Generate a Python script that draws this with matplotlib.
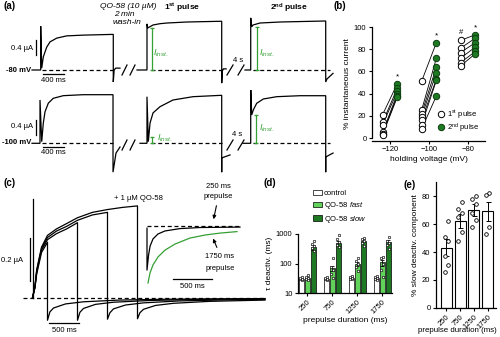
import numpy as np
import matplotlib
matplotlib.use('Agg')
import matplotlib.pyplot as plt
from matplotlib.lines import Line2D
from matplotlib.patches import Patch, FancyArrowPatch
from matplotlib.ticker import NullLocator

plt.rcParams['font.family'] = ['Liberation Sans', 'DejaVu Sans']
plt.rcParams['mathtext.fontset'] = 'custom'
plt.rcParams['mathtext.rm'] = 'Liberation Sans'
plt.rcParams['mathtext.it'] = 'Liberation Sans:italic'
plt.rcParams['mathtext.bf'] = 'Liberation Sans:bold'

# ---- (a) example currents, time in ms, current in uA ----
a80_ctrl_t = [-150, 13, 13, 32, 62, 126, 188, 313, 501, 812, 1374, 1374, 1390, 1420, 1500]
a80_ctrl_i = [0, 0, 1.17, 0.05, 0.35, 0.61, 0.75, 0.85, 0.91, 0.93, 0.95, -0.32, 0.0, 0.05, 0.05]
a80_p1_t = [1819, 2006, 2006, 2019, 2119, 2250, 2381, 2756, 3407, 3407, 3420, 3440, 3490]
a80_p1_i = [0, 0, 1.23, 1.12, 1.2, 1.235, 1.253, 1.28, 1.3, -0.35, -0.02, 0.03, 0.03]
a80_p2_t = [3844, 3951, 3951, 3969, 3994, 4125, 4500, 5357, 5357, 5380, 5494]
a80_p2_i = [0, 0, 1.39, 1.15, 1.2, 1.253, 1.28, 1.307, -0.32, -0.24, -0.09]
a80_inst_t = [2094, 4063]
a80_inst_i = [1.12, 1.15]

a100_ctrl_t = [-150, 0, 0, 32, 62, 94, 156, 249, 437, 806, 1369, 1369, 1425, 1500]
a100_ctrl_i = [0, 0, 1.155, 0.043, 0.54, 0.84, 1.07, 1.2, 1.27, 1.296, 1.296, -0.77, -0.26, -0.1]
a100_p1_t = [1875, 2006, 2006, 2031, 2063, 2119, 2250, 2494, 2869, 3407, 3407, 3407, 3563]
a100_p1_i = [0, 0, 1.243, 0.043, 0.54, 0.81, 0.976, 1.155, 1.243, 1.28, -0.77, -0.39, -0.31]
a100_p2_t = [3806, 3951, 3951, 3969, 3999, 4063, 4187, 4438, 4875, 5357, 5357, 5357, 5494]
a100_p2_i = [0, 0, 1.51, 0.755, 0.888, 1.067, 1.181, 1.243, 1.269, 1.269, -0.77, -0.365, -0.26]
a100_inst_t = [2094, 4044]
a100_inst_i = [0.16, 0.755]

# ---- (b) % instantaneous current ----
holding_mv = [-120, -100, -80]
pulse1_m120 = [21, 14, 12, 5, 4, 3]
pulse2_m120 = [49, 45, 42, 40, 38, 37]
pulse1_m100 = [51, 25, 22, 19, 16, 12, 8]
pulse2_m100 = [86, 72, 64, 59, 53, 52, 38]
pulse1_m80 = [88, 81, 77, 72, 68, 65]
pulse2_m80 = [93, 90, 86, 82, 78, 76]

# ---- (c) currents with QO-58, time in ms, current in uA ----
prepulse_ms = [250, 750, 1250, 1750]
rise_t = [0, 40, 70, 150, 250, 400, 570, 750, 1000, 1250, 1500, 1750]
rise_250 = [0, 0.045, 0.11, 0.21, 0.258]
rise_750 = [0, 0.048, 0.12, 0.22, 0.27, 0.298, 0.32, 0.349]
rise_1250 = [0, 0.05, 0.125, 0.228, 0.28, 0.31, 0.332, 0.36, 0.385, 0.397]
rise_1750 = [0, 0.05, 0.13, 0.235, 0.29, 0.32, 0.345, 0.372, 0.397, 0.41, 0.42, 0.427]
tail_t_250 = [250, 290, 350, 550, 850, 1450, 2250, 3875]
tail_i_250 = [-0.105, -0.066, -0.048, -0.029, -0.019, -0.011, -0.007, -0.004]
tail_t_750 = [750, 790, 850, 1050, 1350, 1950, 2750, 3875]
tail_i_750 = [-0.105, -0.068, -0.05, -0.031, -0.021, -0.013, -0.008, -0.005]
tail_t_1250 = [1250, 1290, 1350, 1550, 1850, 2450, 3250, 3875]
tail_i_1250 = [-0.1, -0.07, -0.052, -0.034, -0.024, -0.015, -0.01, -0.008]
tail_t_1750 = [1750, 1790, 1850, 2050, 2350, 2950, 3875]
tail_i_1750 = [-0.098, -0.07, -0.054, -0.036, -0.026, -0.017, -0.011]
cap_peak = 0.46
# inset: normalised tails
inset_250_t = [0, 0, 20, 40, 77, 141, 231, 423, 679, 1192]
inset_250_i = [-0.01, -0.205, -0.135, -0.093, -0.06, -0.037, -0.023, -0.012, -0.007, -0.005]
inset_1750_t = [13, 38, 77, 141, 231, 359, 551, 744, 936, 1154]
inset_1750_i = [-0.265, -0.219, -0.181, -0.144, -0.112, -0.084, -0.056, -0.042, -0.033, -0.026]

# ---- (d) tau deactivation ----
prepulse_labels = ['250', '750', '1250', '1750']
tau_control = [31, 31, 33, 32]
tau_fast = [33, 70, 100, 110]
tau_slow = [350, 500, 600, 550]
tau_control_err = [2, 2, 3, 3]
tau_fast_err = [3, 15, 15, 25]
tau_slow_err = [60, 100, 70, 100]
pts_control = [[27, 29, 31, 33, 36], [27, 29, 31, 33, 35], [29, 31, 33, 35, 38], [28, 30, 32, 35, 37]]
pts_fast = [[28, 30, 33, 36, 42], [32, 45, 60, 75, 150], [55, 75, 95, 120, 150], [35, 60, 100, 150, 170]]
pts_slow = [[260, 330, 380, 450, 560], [350, 420, 520, 700, 900], [400, 500, 600, 680, 750], [300, 420, 500, 600, 800]]

# ---- (e) % slow component ----
slow_pct = [43, 62, 70, 69]
slow_pct_err = [6, 5, 4, 7]
slow_pct_pts = [[62, 51, 48, 37, 31, 26], [76, 71, 68, 65, 54, 48], [80, 78, 74, 68, 63, 58], [82, 81, 58, 53]]

green_dark = '#1d7a22'
green_light = '#62d35a'
green_trace = '#34a034'

W, H = 500, 337
fig = plt.figure(figsize=(5, 3.37), dpi=100)
fig.patch.set_facecolor('white')


def box(x0, y0, x1, y1):
    return [x0 / W, 1 - y1 / H, (x1 - x0) / W, (y1 - y0) / H]


def ptext(x, y, s, **kw):
    kw.setdefault('ha', 'center')
    kw.setdefault('va', 'center')
    kw.setdefault('fontsize', 5.5)
    fig.text(x / W, 1 - y / H, s, **kw)


def trace_axes(b, xlim, ylim):
    ax = fig.add_axes(box(*b))
    ax.set_xlim(xlim)
    ax.set_ylim(ylim)
    ax.axis('off')
    ax.patch.set_alpha(0)
    return ax


lw = 0.9
dash = (0, (3.2, 2.2))

# ================= (a) =================
rows = [
    ((0, 0, 345, 90), (-0.5333, 1.8667),
     [(a80_ctrl_t, a80_ctrl_i), (a80_p1_t, a80_p1_i), (a80_p2_t, a80_p2_i)],
     a80_inst_t, a80_inst_i, 0.0, 0.4),
    ((0, 90, 345, 180), (-0.9787, 1.4213),
     [(a100_ctrl_t, a100_ctrl_i), (a100_p1_t, a100_p1_i), (a100_p2_t, a100_p2_i)],
     a100_inst_t, a100_inst_i, -0.045, 0.22),
]
for b, ylim, traces, it, ii, brk_y, bar_lo in rows:
    ax = trace_axes(b, (-750, 5718.75), ylim)
    for t0, t1 in [(30, 1374), (2080, 3407), (3990, 5440)]:
        ax.plot([t0, t1], [0, 0], color='k', lw=lw, ls=dash)
    for t, i in traces:
        ax.plot(t, i, color='k', lw=lw, solid_joinstyle='miter')
    for t, i in zip(it, ii):
        ax.plot([t, t], [0, i], color=green_trace, lw=lw, marker='_', ms=3.5, mew=0.9)
    for t0, t1 in [(1538, 1631), (1688, 1781), (3506, 3619), (3713, 3825)]:
        ax.plot([t0, t1], [brk_y - 0.133, brk_y + 0.133], color='k', lw=lw)
    # scale bars: 0.4 uA and 400 ms
    ax.plot([-84, -84], [bar_lo, bar_lo + 0.4], color='k', lw=lw)
    ax.plot([50, 450], [-0.1, -0.1], color='k', lw=lw)

ptext(3, 6, '(a)', ha='left', fontsize=7, fontweight='bold')
ptext(128, 7, 'QO-58 (10 µM)', style='italic', fontsize=6)
ptext(124, 15, '2 min', style='italic', fontsize=6)
ptext(127, 23, 'wash-in', style='italic', fontsize=6)
ptext(182, 8, r'1$^{\mathbf{st}}$ pulse', fontweight='bold', fontsize=6)
ptext(289, 8, r'2$^{\mathbf{nd}}$ pulse', fontweight='bold', fontsize=6)
ptext(31, 70, '-80 mV', ha='right', fontweight='bold', fontsize=5.5)
ptext(31, 143, '-100 mV', ha='right', fontweight='bold', fontsize=5.5)
ptext(33, 48, '0.4 µA', ha='right')
ptext(33, 127, '0.4 µA', ha='right')
ptext(53, 80, '400 ms')
ptext(53, 152, '400 ms')
ptext(238, 61, '4 s')
ptext(237, 134, '4 s')
ptext(153, 53, r'$I_{inst.}$', ha='left', color=green_trace, fontsize=6.5)
ptext(259, 53, r'$I_{inst.}$', ha='left', color=green_trace, fontsize=6.5)
ptext(157, 138, r'$I_{inst.}$', ha='left', color=green_trace, fontsize=6.5)
ptext(259, 128, r'$I_{inst.}$', ha='left', color=green_trace, fontsize=6.5)

# ================= (b) =================
ax_b = fig.add_axes(box(372, 25.9, 485, 140.8))
pairs = [(pulse1_m120, pulse2_m120), (pulse1_m100, pulse2_m100), (pulse1_m80, pulse2_m80)]
for v, (p1, p2) in zip(holding_mv, pairs):
    xo, xg = v - 3.8, v + 3.8
    for a, c in zip(p1, p2):
        ax_b.plot([xo, xg], [a, c], color='k', lw=0.6, zorder=1)
    ax_b.plot([xo] * len(p1), p1, 'o', ms=4.6, mfc='white', mec='k', mew=0.7, zorder=3, clip_on=False)
    ax_b.plot([xg] * len(p2), p2, 'o', ms=4.6, mfc=green_dark, mec='#0d3d10', mew=0.7, zorder=3, clip_on=False)
    ax_b.text(xg, max(p2) + 6, '*', ha='center', va='center', fontsize=6)
ax_b.text(holding_mv[2] - 3.8, max(pulse1_m80) + 7.5, '#', ha='center', va='center', fontsize=5.5)
ax_b.set_xlim(-129.2, -71.3)
ax_b.set_ylim(-2.5, 101)
ax_b.set_xticks(holding_mv)
ax_b.set_yticks([0, 20, 40, 60, 80, 100])
ax_b.spines['top'].set_visible(False)
ax_b.spines['right'].set_visible(False)
ax_b.spines['left'].set_bounds(0, 100)
ax_b.set_ylabel('% instantaneous current', fontsize=6, labelpad=2)
ax_b.set_xlabel('holding voltage (mV)', fontsize=6, labelpad=2)
ax_b.legend(handles=[Line2D([], [], ls='', marker='o', ms=4.6, mfc='white', mec='k', mew=0.7),
                     Line2D([], [], ls='', marker='o', ms=4.6, mfc=green_dark, mec='#0d3d10', mew=0.7)],
            labels=[r'1$^{\mathrm{st}}$ pulse', r'2$^{\mathrm{nd}}$ pulse'],
            loc='center left', bbox_to_anchor=(437 / W, 1 - 121.5 / H), bbox_transform=fig.transFigure,
            frameon=False, fontsize=5.5, handlelength=1.0, handletextpad=0.3, labelspacing=0.08,
            borderpad=0, borderaxespad=0)
ptext(334, 6, '(b)', ha='left', fontsize=7, fontweight='bold')

# ================= (c) =================
ax_c = trace_axes((0, 185, 275, 337), (-541.7, 4041.7), (-0.1828, 0.5242))
ax_c.plot([-158, 3875], [0, 0], color='k', lw=lw, ls=dash)
rises = [rise_250, rise_750, rise_1250, rise_1750]
tails = [(tail_t_250, tail_i_250), (tail_t_750, tail_i_750),
         (tail_t_1250, tail_i_1250), (tail_t_1750, tail_i_1750)]
for dur, r, (tt, ti) in zip(prepulse_ms, rises, tails):
    t = rise_t[:len(r) - 1] + [dur] + [dur] + tt
    i = r + [ti[0]] + ti
    ax_c.plot(t, i, color='k', lw=lw)
ax_c.plot([0, 0], [0, cap_peak], color='k', lw=lw)
ax_c.plot([-40, -40], [0.078, 0.278], color='k', lw=lw)
ax_c.plot([275, 775], [-0.118, -0.118], color='k', lw=lw)

ax_in = trace_axes((140, 215, 250, 295), (-89.74, 1320.5), (-0.3209, 0.0512))
ax_in.plot([0, 1192], [0, 0], color='k', lw=lw, ls=dash)
ax_in.plot(inset_1750_t, inset_1750_i, color=green_trace, lw=lw)
ax_in.plot(inset_250_t, inset_250_i, color='k', lw=lw)
ax_in.plot([333, 833], [-0.247, -0.247], color='k', lw=lw)

ptext(3, 183, '(c)', ha='left', fontsize=7, fontweight='bold')
ptext(138, 198, '+ 1 µM QO-58')
ptext(23, 260, '0.2 µA', ha='right')
ptext(64, 330, '500 ms')
ptext(192, 286, '500 ms')
ptext(218, 187, '250 ms')
ptext(218, 197, 'prepulse')
ptext(220, 257, '1750 ms')
ptext(220, 268, 'prepulse')
fig.add_artist(FancyArrowPatch(
    (217 / W, 1 - 203 / H), (213 / W, 1 - 222 / H), transform=fig.transFigure,
    arrowstyle='-|>', mutation_scale=5, lw=0.8, color='k'))
fig.add_artist(FancyArrowPatch(
    (218 / W, 1 - 250 / H), (212 / W, 1 - 236 / H), transform=fig.transFigure,
    arrowstyle='-|>', mutation_scale=5, lw=0.8, color='k'))

# ================= (d) =================
ax_d = fig.add_axes(box(298, 234, 392, 293))
ax_d.set_yscale('log')
x = np.arange(len(prepulse_labels))
offs = [-0.24, 0.0, 0.24]
series = [(tau_control, tau_control_err, pts_control, 'white'),
          (tau_fast, tau_fast_err, pts_fast, green_light),
          (tau_slow, tau_slow_err, pts_slow, green_dark)]
for off, (m, e, pts, col) in zip(offs, series):
    ax_d.bar(x + off, m, width=0.2, color=col, edgecolor='k', lw=0.5, zorder=2)
    ax_d.errorbar(x + off, m, yerr=e, fmt='none', ecolor='k', elinewidth=0.6, capsize=1.2,
                  capthick=0.6, zorder=3)
    for xi, p in zip(x, pts):
        jit = [(-0.04 if k % 2 else 0.04) for k in range(len(p))]
        ax_d.plot(xi + off + np.array(jit), p, 'o', ms=1.8, mfc='white', mec='k', mew=0.45,
                  zorder=4, clip_on=False)
ax_d.set_xlim(-0.36, 3.4)
ax_d.set_ylim(10, 1000)
ax_d.set_yticks([10, 100, 1000])
ax_d.set_yticklabels(['10', '100', '1000'])
ax_d.yaxis.set_minor_locator(NullLocator())
ax_d.set_xticks(x)
ax_d.set_xticklabels(prepulse_labels, rotation=45, ha='right', rotation_mode='anchor')
ax_d.spines['top'].set_visible(False)
ax_d.spines['right'].set_visible(False)
ax_d.set_ylabel('τ deactiv. (ms)', fontsize=6, labelpad=2)
ax_d.set_xlabel('prepulse duration (ms)', fontsize=6, labelpad=1)
ax_d.legend(handles=[Patch(facecolor='white', edgecolor='k', lw=0.5),
                     Patch(facecolor=green_light, edgecolor='k', lw=0.5),
                     Patch(facecolor=green_dark, edgecolor='k', lw=0.5)],
            labels=['control', r'QO-58 $\mathit{fast}$', r'QO-58 $\mathit{slow}$'],
            loc='upper left', bbox_to_anchor=(313 / W, 1 - 190 / H), bbox_transform=fig.transFigure,
            frameon=False, fontsize=5.5, handlelength=1.2, handleheight=0.7, handletextpad=0.2,
            labelspacing=0.35, borderpad=0, borderaxespad=0)
ptext(264, 183, '(d)', ha='left', fontsize=7, fontweight='bold')

# ================= (e) =================
ax_e = fig.add_axes(box(436, 182, 496, 308))
xe = np.arange(len(prepulse_labels))
ax_e.bar(xe, slow_pct, width=0.8, color='white', edgecolor='k', lw=0.8, zorder=2)
ax_e.errorbar(xe, slow_pct, yerr=slow_pct_err, fmt='none', ecolor='k', elinewidth=0.7,
              capsize=1.8, capthick=0.7, zorder=3)
for xi, p in zip(xe, slow_pct_pts):
    jit = [(-0.12 if k % 2 else 0.12) for k in range(len(p))]
    ax_e.plot(xi + np.array(jit), p, 'o', ms=2.6, mfc='white', mec='k', mew=0.6, zorder=4)
ax_e.set_xlim(-0.74, 3.6)
ax_e.set_ylim(0, 90)
ax_e.set_yticks([0, 20, 40, 60, 80])
ax_e.set_xticks(xe)
ax_e.set_xticklabels(prepulse_labels, rotation=45, ha='right', rotation_mode='anchor')
ax_e.spines['top'].set_visible(False)
ax_e.spines['right'].set_visible(False)
ax_e.set_ylabel('% slow deactiv. component', fontsize=6, labelpad=2)
ax_e.set_xlabel('prepulse duration (ms)', fontsize=5.7, labelpad=1)
ax_e.xaxis.set_label_coords(0.35, -0.15)
ptext(404, 185, '(e)', ha='left', fontsize=7, fontweight='bold')

for ax in (ax_b, ax_d, ax_e):
    ax.tick_params(direction='out', length=2.5, width=0.8, pad=1.5, labelsize=5.5)
    for s in ax.spines.values():
        s.set_linewidth(0.9)
    ax.patch.set_alpha(0)

fig.savefig('out.png', dpi=100)
